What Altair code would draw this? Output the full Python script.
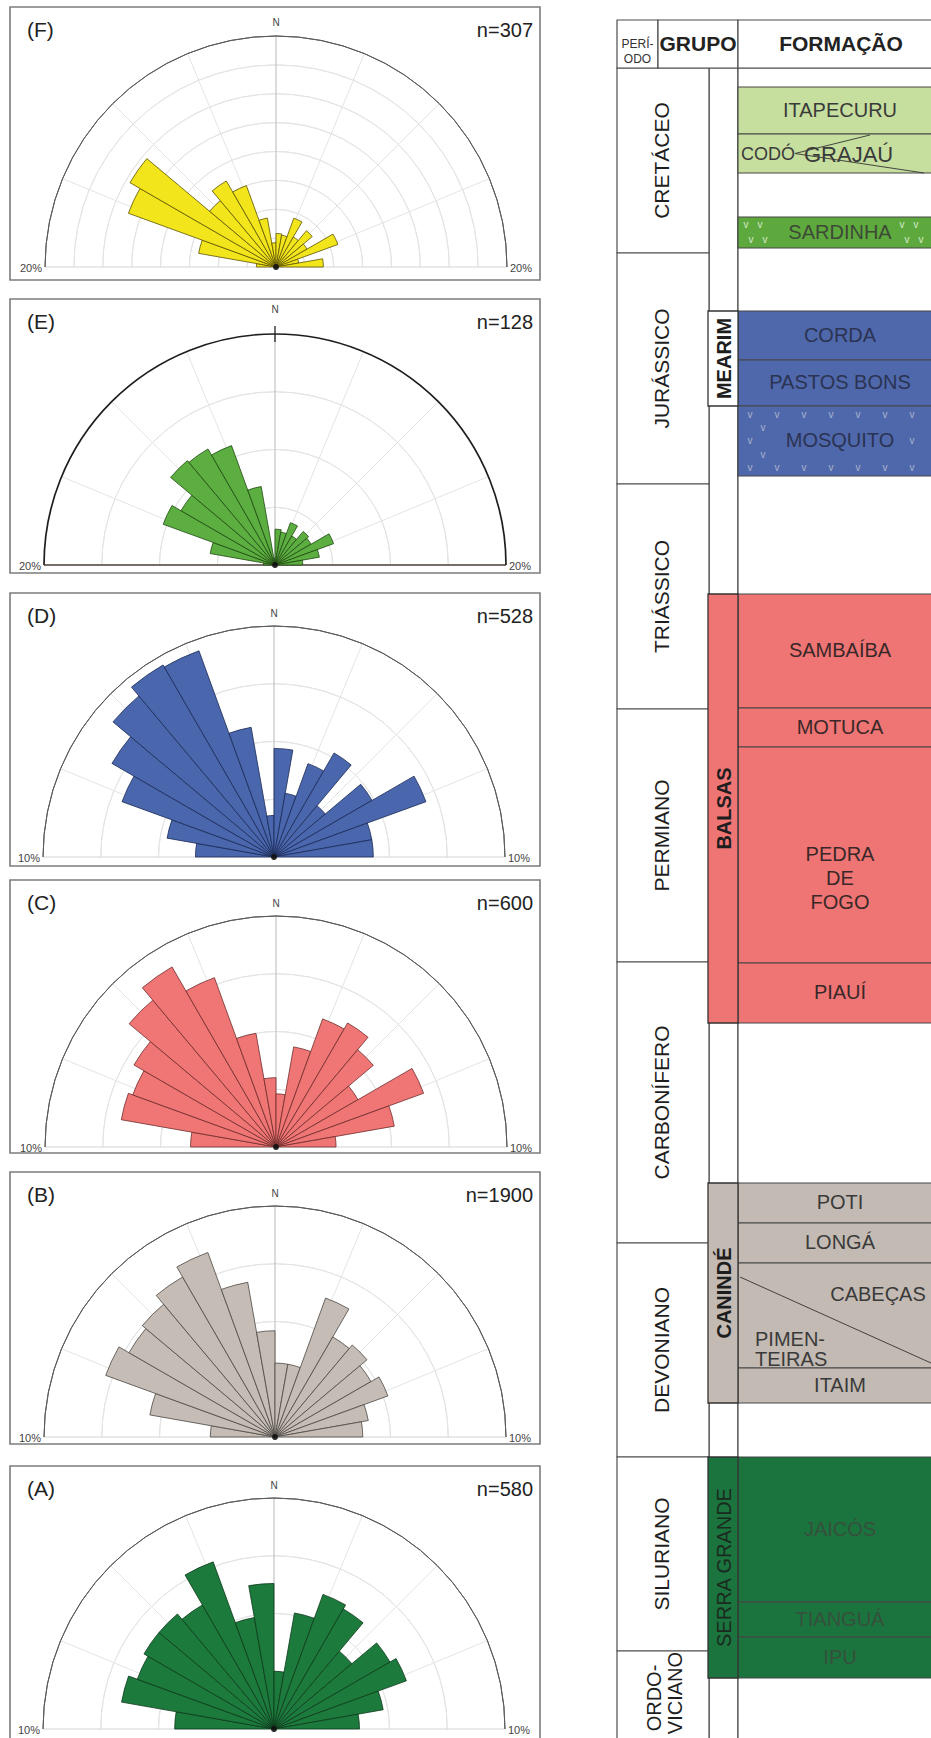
import math
import altair as alt
import pandas as pd

W, H = 931, 1738
FONT = "Liberation Sans"

# ---------------- rose diagrams: % of readings per 10-degree azimuth class (W -> N -> E) ----------------
BIN_WIDTH = 10
BIN_START = list(range(-90, 90, BIN_WIDTH))

PANEL_IDS = ["F", "E", "D", "C", "B", "A"]
PANEL_N = [307, 128, 528, 600, 1900, 580]
PANEL_MAX = [20, 20, 10, 10, 10, 10]          # value of the outer circle (%)
PANEL_RING_STEP = [2.5, 5, 2.5, 2.5, 2.5, 2.5]

ROSE_F = [1.7, 6.8, 13.6, 14.6, 7.5, 8.6, 7.5, 4.3, 2.1, 2.9, 2.8, 4.5, 3.0, 4.1, 3.1, 5.7, 2.0, 4.1]
ROSE_E = [1.0, 5.7, 10.3, 9.4, 11.8, 11.6, 11.0, 6.9, 0.6, 3.1, 2.9, 3.9, 2.9, 3.8, 3.6, 5.4, 3.9, 2.4]
ROSE_D = [3.4, 4.7, 7.0, 8.1, 9.1, 9.6, 9.5, 5.7, 1.8, 4.7, 2.8, 4.3, 5.2, 2.9, 4.9, 7.0, 4.3, 4.3]
ROSE_C = [3.7, 6.8, 6.6, 7.1, 8.3, 9.0, 7.8, 5.0, 3.0, 2.3, 4.4, 5.9, 6.2, 5.5, 4.1, 6.8, 5.2, 2.6]
ROSE_B = [2.8, 5.5, 7.8, 7.3, 7.5, 8.0, 8.5, 6.8, 4.6, 3.2, 3.2, 6.4, 5.0, 5.2, 4.8, 5.2, 4.1, 3.8]
ROSE_A = [4.3, 6.7, 6.3, 6.5, 6.5, 6.2, 7.7, 4.9, 6.3, 2.5, 5.1, 6.2, 6.0, 4.4, 5.8, 6.1, 4.8, 3.7]
ROSE_VALUES = [ROSE_F, ROSE_E, ROSE_D, ROSE_C, ROSE_B, ROSE_A]

PETAL_FILL = ["#f2e51c", "#5cae40", "#4a67ad", "#f07676", "#c4bcb5", "#1c7a3c"]
PETAL_EDGE = ["#5e5400", "#1f4a12", "#1b2a55", "#6e2b2b", "#4d4742", "#0d391b"]

# panel frames and circle centres (pixels)
BOX_X0, BOX_X1 = 10, 540
PANEL_TOP = [7, 299, 593, 880, 1172, 1466]
PANEL_BOTTOM = [280, 573, 866, 1153, 1444, 1748]
CENTER_X = [276, 275, 274, 276, 275, 274]
CENTER_Y = [267, 565, 857, 1147, 1437, 1729]
NORTH_GAP = [13, 24, 12, 12, 12, 12]
R = 231
GRID_DIRS = [-67.5, -45, -22.5, 22.5, 45, 67.5]

# ---------------- stratigraphic column ----------------
PERIODS = ["CRETÁCEO", "JURÁSSICO", "TRIÁSSICO", "PERMIANO", "CARBONÍFERO", "DEVONIANO", "SILURIANO"]
PERIOD_BASE = [253, 484, 709, 962, 1243, 1457, 1651, 1760]

GROUPS = ["MEARIM", "BALSAS", "CANINDÉ", "SERRA GRANDE"]
GROUP_TOP = [311, 594, 1183, 1457]
GROUP_BASE = [406, 1023, 1403, 1678]
GROUP_KEY = ["none", "balsas", "caninde", "serra"]

FORMATIONS = ["ITAPECURU", "CODÓ / GRAJAÚ", "SARDINHA", "CORDA", "PASTOS BONS", "MOSQUITO",
              "SAMBAÍBA", "MOTUCA", "PEDRA DE FOGO", "PIAUÍ", "POTI", "LONGÁ",
              "PIMENTEIRAS / CABEÇAS", "ITAIM", "JAICÓS", "TIANGUÁ", "IPU"]
FORM_TOP = [87, 134, 217, 311, 360, 406, 594, 708, 747, 963, 1183, 1223, 1263, 1368, 1457, 1602, 1637]
FORM_BASE = [134, 173, 248, 360, 406, 476, 708, 747, 963, 1023, 1223, 1263, 1368, 1403, 1602, 1637, 1678]
FORM_KEY = ["cret", "cret", "sard", "mearim", "mearim", "mearim", "balsas", "balsas", "balsas", "balsas",
            "caninde", "caninde", "caninde", "caninde", "serra", "serra", "serra"]

FILL = {"none": "#ffffff", "cret": "#c6df9f", "sard": "#5ea93e", "mearim": "#4f68ab",
        "balsas": "#ef7575", "caninde": "#c3bab3", "serra": "#1b743e"}
INK = {"cret": "#3a3a3a", "sard": "#3d4a36", "mearim": "#2b3352", "balsas": "#3a2828",
       "caninde": "#3a3a3a", "serra": "#35503c"}

COL_L, COL_P, COL_G, COL_R = 617, 709, 738, 960
HEAD_T, HEAD_B, HEAD_SPLIT = 20, 68, 658
LINE = "#4d4d4d"

# ---------------- scales ----------------
XS = alt.Scale(domain=[0, W], range=[0, W], nice=False, zero=False)
YS = alt.Scale(domain=[0, H], range=[0, H], nice=False, zero=False)
TS = alt.Scale(domain=[0, 360], range=[0, 2 * math.pi], nice=False, zero=False)
RS = alt.Scale(type="linear", domain=[0, 1], range=[0, R], nice=False, zero=False)


def X(f):
    return alt.X(f, type="quantitative", scale=XS, axis=None)


def Y(f):
    return alt.Y(f, type="quantitative", scale=YS, axis=None)


# ---------------- rose data ----------------
panels = pd.DataFrame(dict(
    panel=PANEL_IDS,
    tag=[f"({p})" for p in PANEL_IDS],
    n=[f"n={v}" for v in PANEL_N],
    pct=[f"{m}%" for m in PANEL_MAX],
    top=PANEL_TOP, bottom=PANEL_BOTTOM, cx=CENTER_X, cy=CENTER_Y, gap=NORTH_GAP,
))
panels["x0"] = BOX_X0
panels["x1"] = BOX_X1
panels["tagx"] = BOX_X0 + 17
panels["nx"] = BOX_X1 - 7
panels["laby"] = panels["top"] + 24
panels["northy"] = panels["cy"] - R - panels["gap"]
panels["lx"] = panels["cx"] - R - 3
panels["rx"] = panels["cx"] + R + 3
panels["py"] = panels["cy"] + 2
panels["bx0"] = panels["cx"] - R
panels["bx1"] = panels["cx"] + R
panels["ty0"] = panels["cy"] - R - 8
panels["ty1"] = panels["cy"] - R + 8
panels["a0"] = -90
panels["a1"] = 90
panels["r"] = 1.0

petal_rows = []
for i, pid in enumerate(PANEL_IDS):
    for a0, v in zip(BIN_START, ROSE_VALUES[i]):
        petal_rows.append(dict(panel=pid, a0=a0, a1=a0 + BIN_WIDTH, pct=v, r=v / PANEL_MAX[i],
                               cx=CENTER_X[i], cy=CENTER_Y[i]))
petals = pd.DataFrame(petal_rows)

ring_rows = []
for i, pid in enumerate(PANEL_IDS):
    k = 1
    while k * PANEL_RING_STEP[i] < PANEL_MAX[i] - 1e-9:
        ring_rows.append(dict(panel=pid, r=k * PANEL_RING_STEP[i] / PANEL_MAX[i],
                              cx=CENTER_X[i], cy=CENTER_Y[i], a0=-90, a1=90))
        k += 1
rings = pd.DataFrame(ring_rows)

spoke_rows = []
for i, pid in enumerate(PANEL_IDS):
    for a in GRID_DIRS + [0]:
        spoke_rows.append(dict(panel=pid, a=a, cx=CENTER_X[i], cy=CENTER_Y[i], north=(a == 0)))
spokes = pd.DataFrame(spoke_rows)

theta = alt.Theta("a0:Q", scale=TS, stack=None)
theta2 = alt.Theta2("a1")

frames = alt.Chart(panels).mark_rect(fill="white", stroke="#7c7c7c", strokeWidth=1.6).encode(
    x=X("x0"), x2=alt.X2("x1"), y=Y("top"), y2=alt.Y2("bottom"))

ring_layer = alt.Chart(rings).mark_arc(fill="white", fillOpacity=0, stroke="#e4e4e4", strokeWidth=1).encode(
    x=X("cx"), y=Y("cy"), theta=theta, theta2=theta2,
    radius=alt.Radius("r:Q", scale=RS), radius2=alt.Radius2("r"))

spoke_expr_x = f"datum.cx + {R} * sin(datum.a * PI / 180)"
spoke_expr_y = f"datum.cy - {R} * cos(datum.a * PI / 180)"
spoke_layer = alt.Chart(spokes).transform_filter("!datum.north").transform_calculate(
    ex=spoke_expr_x, ey=spoke_expr_y).mark_rule(color="#e4e4e4", strokeWidth=1).encode(
    x=X("cx"), y=Y("cy"), x2=alt.X2("ex"), y2=alt.Y2("ey"))
north_layer = alt.Chart(spokes).transform_filter("datum.north").transform_calculate(
    ex=spoke_expr_x, ey=spoke_expr_y).mark_rule(color="#b8b8b8", strokeWidth=1).encode(
    x=X("cx"), y=Y("cy"), x2=alt.X2("ex"), y2=alt.Y2("ey"))

base_light = alt.Chart(panels).transform_filter("datum.panel != 'E'").mark_rule(
    color="#d4d4d4", strokeWidth=1).encode(x=X("bx0"), x2=alt.X2("bx1"), y=Y("cy"))
base_dark = alt.Chart(panels).transform_filter("datum.panel == 'E'").mark_rule(
    color="#4a3d36", strokeWidth=1.4).encode(x=X("bx0"), x2=alt.X2("bx1"), y=Y("cy"))

petal_layer = alt.Chart(petals).mark_arc(strokeWidth=0.8).encode(
    x=X("cx"), y=Y("cy"), theta=theta, theta2=theta2,
    radius=alt.Radius("r:Q", scale=RS),
    fill=alt.Fill("panel:N", scale=alt.Scale(domain=PANEL_IDS, range=PETAL_FILL), legend=None),
    stroke=alt.Stroke("panel:N", scale=alt.Scale(domain=PANEL_IDS, range=PETAL_EDGE), legend=None),
)

outer_light = alt.Chart(panels).transform_filter("datum.panel != 'E'").mark_arc(
    fill="white", fillOpacity=0, stroke="#5a5a5a", strokeWidth=1).encode(
    x=X("cx"), y=Y("cy"), theta=theta, theta2=theta2,
    radius=alt.Radius("r:Q", scale=RS), radius2=alt.Radius2("r"))
outer_dark = alt.Chart(panels).transform_filter("datum.panel == 'E'").mark_arc(
    fill="white", fillOpacity=0, stroke="#1e1e1e", strokeWidth=1.7).encode(
    x=X("cx"), y=Y("cy"), theta=theta, theta2=theta2,
    radius=alt.Radius("r:Q", scale=RS), radius2=alt.Radius2("r"))
north_tick = alt.Chart(panels).transform_filter("datum.panel == 'E'").mark_rule(
    color="#222", strokeWidth=1.3).encode(x=X("cx"), y=Y("ty0"), y2=alt.Y2("ty1"))

centre = alt.Chart(panels).mark_circle(size=34, color="#111", opacity=0.9).encode(x=X("cx"), y=Y("cy"))

tag_text = alt.Chart(panels).mark_text(align="left", baseline="middle", font=FONT, fontSize=21,
                                        color="#222").encode(x=X("tagx"), y=Y("laby"), text="tag:N")
n_text = alt.Chart(panels).mark_text(align="right", baseline="middle", font=FONT, fontSize=20,
                                      color="#222").encode(x=X("nx"), y=Y("laby"), text="n:N")
north_text = alt.Chart(panels).mark_text(align="center", baseline="middle", font=FONT, fontSize=10,
                                          color="#444").encode(x=X("cx"), y=Y("northy"), text=alt.value("N"))
pct_left = alt.Chart(panels).mark_text(align="right", baseline="middle", font=FONT, fontSize=11,
                                        color="#444").encode(x=X("lx"), y=Y("py"), text="pct:N")
pct_right = alt.Chart(panels).mark_text(align="left", baseline="middle", font=FONT, fontSize=11,
                                         color="#444").encode(x=X("rx"), y=Y("py"), text="pct:N")

rose_layers = [frames, ring_layer, spoke_layer, north_layer, base_light, base_dark, petal_layer,
               outer_light, outer_dark, north_tick, centre, tag_text, n_text, north_text,
               pct_left, pct_right]

# ---------------- stratigraphic column data ----------------
period_tops = [HEAD_B] + PERIOD_BASE[:-1]
period_df = pd.DataFrame(dict(name=PERIODS + ["ORDOVICIANO"], top=period_tops, base=PERIOD_BASE))
period_df["x0"] = COL_L
period_df["x1"] = COL_P
period_df["mid"] = (period_df["top"] + period_df["base"]) / 2
period_df["lx"] = (COL_L + COL_P) / 2

header_df = pd.DataFrame(dict(x0=[COL_L, HEAD_SPLIT, COL_G], x1=[HEAD_SPLIT, COL_G, COL_R],
                              top=[HEAD_T] * 3, base=[HEAD_B] * 3))
columns_df = pd.DataFrame(dict(x0=[COL_P, COL_G], x1=[COL_G, COL_R], top=[HEAD_B] * 2, base=[1760] * 2))

group_df = pd.DataFrame(dict(name=GROUPS, top=GROUP_TOP, base=GROUP_BASE,
                             fill=[FILL[k] for k in GROUP_KEY]))
group_df["x0"] = COL_P - 1
group_df["x1"] = COL_G
group_df["mid"] = (group_df["top"] + group_df["base"]) / 2
group_df["lx"] = (COL_P + COL_G) / 2 + 1
group_df["bold"] = [True, True, True, False]

form_df = pd.DataFrame(dict(name=FORMATIONS, top=FORM_TOP, base=FORM_BASE,
                            fill=[FILL[k] for k in FORM_KEY]))
form_df["x0"] = COL_G
form_df["x1"] = COL_R

# formation labels, centred in each unit; split units get their facies names placed apart
FORM_CX = 840
label_rows = []
for name, t, b, key in zip(FORMATIONS, FORM_TOP, FORM_BASE, FORM_KEY):
    mid = (t + b) / 2
    ink = INK[key]
    if name == "CODÓ / GRAJAÚ":
        label_rows.append(dict(text="CODÓ", x=COL_G + 3, y=mid + 1, align="left", ink=ink, size=18, lh=24))
        label_rows.append(dict(text="GRAJAÚ", x=COL_G + 66, y=mid + 1, align="left", ink=ink, size=22, lh=24))
    elif name == "PIMENTEIRAS / CABEÇAS":
        label_rows.append(dict(text="CABEÇAS", x=FORM_CX + 38, y=t + 32, align="center", ink=ink, size=20, lh=24))
        label_rows.append(dict(text="PIMEN-\nTEIRAS", x=COL_G + 17, y=t + 77, align="left", ink=ink, size=20, lh=20))
    elif name == "PEDRA DE FOGO":
        label_rows.append(dict(text="PEDRA\nDE\nFOGO", x=FORM_CX, y=mid, align="center", ink=ink, size=20, lh=24))
    else:
        label_rows.append(dict(text=name, x=FORM_CX, y=mid, align="center", ink=ink, size=20, lh=24))
labels_df = pd.DataFrame(label_rows)

# volcanic "v" ornament of the SARDINHA and MOSQUITO units
v_rows = []
sard_t = FORM_TOP[FORMATIONS.index("SARDINHA")]
for row, dy in enumerate([8, 23]):
    for x in [746, 760, 902, 916]:
        v_rows.append(dict(x=x + (5 if row else 0), y=sard_t + dy, ink="#d7e8cb"))
mosq_t = FORM_TOP[FORMATIONS.index("MOSQUITO")]
for row, dy in enumerate([9, 22, 35, 49, 62]):
    for j in range(7):
        x = 750 + j * 27 + (13 if row % 2 else 0)
        if x > 924:
            continue
        if 1 <= row <= 3 and 768 < x < 910:
            continue
        v_rows.append(dict(x=x, y=mosq_t + dy, ink="#a9b3cc"))
v_df = pd.DataFrame(v_rows)

# facies boundaries inside the CODÓ/GRAJAÚ and PIMENTEIRAS/CABEÇAS units
codo_t = FORM_TOP[1]
codo_b = FORM_BASE[1]
cab_t = FORM_TOP[12]
facies_df = pd.DataFrame(dict(
    x0=[COL_G + 57, COL_G + 57, COL_G + 2],
    y0=[(codo_t + codo_b) / 2, (codo_t + codo_b) / 2, cab_t + 14],
    x1=[COL_G + 132, COL_G + 186, 931],
    y1=[codo_t + 1, codo_b, cab_t + 100],
))

table_layers = [
    alt.Chart(columns_df).mark_rect(fill="white", stroke=LINE, strokeWidth=1.2).encode(
        x=X("x0"), x2=alt.X2("x1"), y=Y("top"), y2=alt.Y2("base")),
    alt.Chart(period_df).mark_rect(fill="white", stroke=LINE, strokeWidth=1.2).encode(
        x=X("x0"), x2=alt.X2("x1"), y=Y("top"), y2=alt.Y2("base")),
    alt.Chart(header_df).mark_rect(fill="white", stroke=LINE, strokeWidth=1.2).encode(
        x=X("x0"), x2=alt.X2("x1"), y=Y("top"), y2=alt.Y2("base")),
    alt.Chart(form_df).mark_rect(stroke="#474747", strokeWidth=1.1).encode(
        x=X("x0"), x2=alt.X2("x1"), y=Y("top"), y2=alt.Y2("base"),
        fill=alt.Fill("fill:N", scale=None)),
    alt.Chart(group_df).mark_rect(stroke="#333", strokeWidth=1.3).encode(
        x=X("x0"), x2=alt.X2("x1"), y=Y("top"), y2=alt.Y2("base"),
        fill=alt.Fill("fill:N", scale=None)),
    alt.Chart(facies_df).mark_rule(color="#333", strokeWidth=0.9).encode(
        x=X("x0"), y=Y("y0"), x2=alt.X2("x1"), y2=alt.Y2("y1")),
    alt.Chart(v_df).mark_text(font=FONT, fontSize=10, baseline="middle").encode(
        x=X("x"), y=Y("y"), text=alt.value("v"), color=alt.Color("ink:N", scale=None)),
    # header
    alt.Chart(pd.DataFrame(dict(t=["PERÍ-\nODO"], x=[(COL_L + HEAD_SPLIT) / 2], y=[(HEAD_T + HEAD_B) / 2]))).mark_text(
        font=FONT, fontSize=12, lineBreak="\n", lineHeight=15, baseline="middle", color="#333").encode(
        x=X("x"), y=Y("y"), text="t:N"),
    alt.Chart(pd.DataFrame(dict(t=["GRUPO", "FORMAÇÃO"], x=[(HEAD_SPLIT + COL_G) / 2, 841],
                                y=[(HEAD_T + HEAD_B) / 2 + 1] * 2))).mark_text(
        font=FONT, fontSize=21, fontWeight="bold", baseline="middle", color="#222").encode(
        x=X("x"), y=Y("y"), text="t:N"),
    # periods
    alt.Chart(period_df.iloc[:-1]).mark_text(font=FONT, fontSize=21, angle=270, baseline="middle",
                                             color="#1e1e1e").encode(x=X("lx"), y=Y("mid"), text="name:N"),
    alt.Chart(pd.DataFrame(dict(t=["ORDO-", "VICIANO"], x=[655, 676], y=[1698, 1693]))).mark_text(
        font=FONT, fontSize=20, angle=270, baseline="middle", color="#1e1e1e").encode(
        x=X("x"), y=Y("y"), text="t:N"),
    # groups
    alt.Chart(group_df[group_df["bold"]]).mark_text(font=FONT, fontSize=20, fontWeight="bold", angle=270,
                                                    baseline="middle", color="#1e1e1e").encode(
        x=X("lx"), y=Y("mid"), text="name:N"),
    alt.Chart(group_df[~group_df["bold"]]).mark_text(font=FONT, fontSize=20, angle=270,
                                                     baseline="middle", color="#1a2a1e").encode(
        x=X("lx"), y=Y("mid"), text="name:N"),
]
for (align, size, lh), sub in labels_df.groupby(["align", "size", "lh"]):
    table_layers.append(
        alt.Chart(sub).mark_text(font=FONT, fontSize=int(size), align=align, baseline="middle",
                                 lineBreak="\n", lineHeight=int(lh)).encode(
            x=X("x"), y=Y("y"), text="text:N", color=alt.Color("ink:N", scale=None)))

chart = alt.layer(*(rose_layers + table_layers)).properties(
    width=W, height=H, padding=0, autosize=alt.AutoSizeParams(type="none"),
    background="white",
).configure_view(stroke=None)

chart.save("out.html", embed_options={"renderer": "svg", "actions": False})
